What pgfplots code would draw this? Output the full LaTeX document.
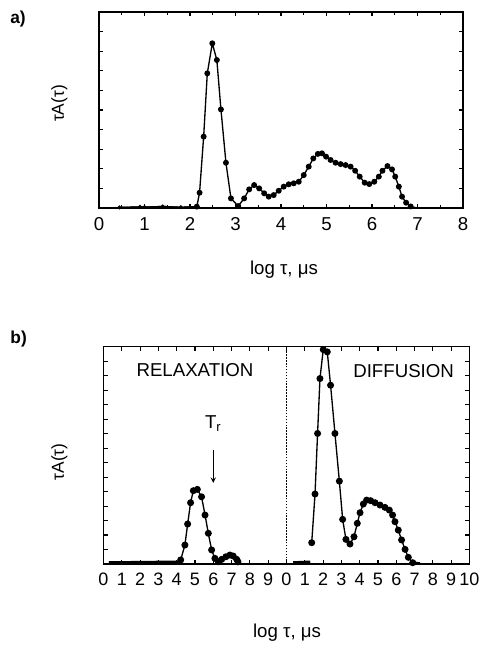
\documentclass[border=0pt]{standalone}
\usepackage{fontspec}
\setmainfont{Liberation Sans}
\usepackage{pgfplots}
\pgfplotsset{compat=1.18}
\pgfplotstableread{
x y
2.15 0.07
2.21 0.78
2.30 3.64
2.38 6.87
2.49 8.40
2.59 7.55
2.68 5.03
2.79 2.31
2.90 0.49
3.06 0.10
3.19 0.49
3.30 0.95
3.41 1.17
3.52 1.00
3.63 0.75
3.73 0.58
3.84 0.66
3.95 0.88
4.06 1.09
4.17 1.21
4.28 1.26
4.39 1.34
4.50 1.68
4.61 2.11
4.71 2.53
4.81 2.76
4.90 2.79
4.99 2.62
5.09 2.45
5.20 2.31
5.31 2.24
5.42 2.19
5.53 2.11
5.63 1.90
5.73 1.60
5.84 1.29
5.94 1.22
6.05 1.34
6.15 1.60
6.23 1.90
6.34 2.14
6.44 1.97
6.51 1.60
6.59 1.09
6.66 0.58
6.75 0.27
6.85 0.08
}\dataA
\pgfplotstableread{
x y
0.45 0.03
0.90 0.06
1.00 0.05
1.40 0.08
1.80 0.04
2.15 0.07
}\baseA
\pgfplotstableread{
x y
4.22 0.28
4.45 1.31
4.60 2.76
4.76 4.23
4.91 5.06
5.13 5.15
5.36 4.64
5.55 3.38
5.73 2.12
5.91 0.97
6.09 0.39
6.28 0.16
6.46 0.32
6.69 0.50
6.91 0.62
7.09 0.55
7.28 0.32
7.35 0.15
}\relaxdata
\pgfplotstableread{
x y
11.38 1.47
11.56 4.83
11.70 9.01
11.83 12.80
12.01 14.80
12.23 14.64
12.41 12.34
12.65 9.01
12.89 5.72
13.07 3.08
13.25 1.70
13.47 1.38
13.69 1.88
13.87 2.81
14.02 3.54
14.20 4.14
14.38 4.41
14.60 4.37
14.84 4.23
15.11 4.07
15.38 3.91
15.62 3.72
15.80 3.38
15.93 2.92
16.11 2.34
16.29 1.66
16.48 1.01
16.66 0.46
16.90 0.09
}\diffdata
\pgfplotsset{
  common/.style={
    scale only axis,
    anchor=south west,
    clip=false,
    axis line style={line width=1pt},
    tick align=inside,
    every tick/.style={black, line width=0.8pt},
    major tick length=3.2pt,
    minor tick length=2pt,
    yticklabels={},
    /pgf/number format/assume math mode=true,
    label style={font=\fontsize{13}{15}\selectfont},
  }
}
\begin{document}
\begin{tikzpicture}
\useasboundingbox (0pt,0pt) rectangle (361.5pt,-483.75pt);
% panel a
\begin{axis}[common,
  at={(74.25pt,-156pt)},
  width=273pt, height=147pt,
  xmin=0, xmax=8, ymin=0, ymax=10,
  xtick={0,...,8}, minor x tick num=1,
  ytick={0,...,10},
  xticklabel style={font=\fontsize{14}{16}\selectfont, yshift=-3.5pt},
]
\addplot[black, line width=0.9pt, no marks] table {\baseA};
\addplot[black, line width=0.9pt, mark=*, mark size=1.0pt] table {\baseA};
\addplot[black, line width=1pt, mark=*, mark size=1.7pt] table {\dataA};
\addplot[black, line width=1pt, no marks] coordinates {(6.85,0.08) (6.95,0.02)};
\end{axis}
% panel b
\begin{axis}[common,
  at={(77.6pt,-423pt)},
  width=274.5pt, height=163pt,
  xmin=0, xmax=20, ymin=0, ymax=15,
  xtick={0,...,20},
  xticklabels={0,1,2,3,4,5,6,7,8,9,0,1,2,3,4,5,6,7,8,9,10},
  ytick={0,...,15},
  xticklabel style={font=\fontsize{13.5}{15}\selectfont, yshift=-3.5pt},
]
\addplot[black, line width=2pt, no marks] coordinates {(0.3,0.1) (4.22,0.15)};
\addplot[black, line width=1pt, mark=*, mark size=2.1pt] table {\relaxdata};
\addplot[black, line width=2pt, no marks] coordinates {(10.37,0.1) (11.3,0.15)};
\addplot[black, line width=1pt, mark=*, mark size=2.1pt] table {\diffdata};
\addplot[black, line width=2pt, no marks] coordinates {(16.9,0.09) (17.3,0.03)};
\draw[black, line width=1pt, dash pattern=on 1.2pt off 1pt] (axis cs:10,0) -- (axis cs:10,15);
\node[font=\fontsize{14}{16}\selectfont] at (axis cs:5,13.4) {RELAXATION};
\node[font=\fontsize{14}{16}\selectfont] at (axis cs:16.4,13.3) {DIFFUSION};
\node[font=\fontsize{14}{16}\selectfont] at (axis cs:6,9.7) {T\textsubscript{r}};
\draw[black, line width=0.8pt, -stealth] (axis cs:6,7.9) -- (axis cs:6,5.6);
\end{axis}
% labels
\node[font=\bfseries\fontsize{13}{15}\selectfont] at (13.5pt,-13.9pt) {a)};
\node[font=\bfseries\fontsize{13}{15}\selectfont] at (14pt,-254pt) {b)};
\node[rotate=90, font=\fontsize{13}{15}\selectfont] at (44.6pt,-77.6pt) {τA(τ)};
\node[rotate=90, font=\fontsize{13}{15}\selectfont] at (44.6pt,-346.5pt) {τA(τ)};
\node[font=\fontsize{14}{16}\selectfont] at (213pt,-202.5pt) {log τ, μs};
\node[font=\fontsize{14}{16}\selectfont] at (215.3pt,-474.75pt) {log τ, μs};
\end{tikzpicture}
\end{document}
